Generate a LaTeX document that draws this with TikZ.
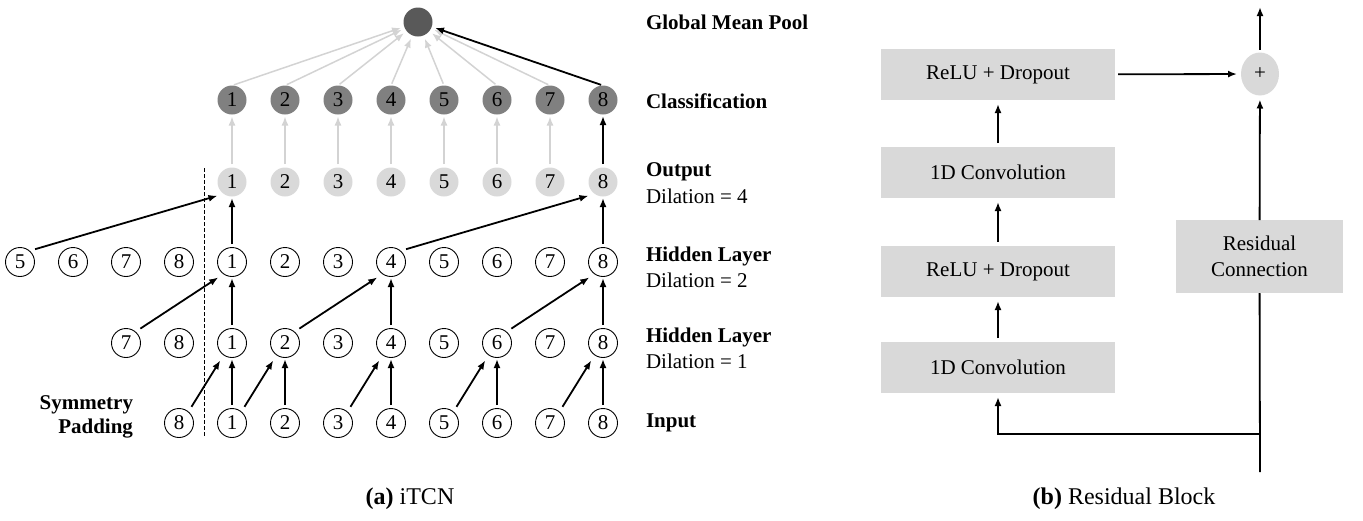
\documentclass[tikz,border=0pt]{standalone}
\usepackage{fontspec}
\setmainfont{Liberation Serif}
\usetikzlibrary{arrows.meta,shapes.geometric}
\definecolor{lgray}{HTML}{D9D9D9}
\definecolor{mgray}{HTML}{808080}
\definecolor{dgray}{HTML}{595959}
\definecolor{agray}{HTML}{D3D3D3}
\begin{document}
\begin{tikzpicture}[x=1pt,y=-1pt,
  every node/.style={font=\fontsize{21}{24}\selectfont, inner sep=0pt, outer sep=0pt},
  cir/.style={circle, draw=black, line width=0.9pt, minimum size=29pt},
  outc/.style={circle, fill=lgray, minimum size=29pt},
  clsc/.style={circle, fill=mgray, minimum size=29pt},
  poolc/.style={circle, fill=dgray, minimum size=29pt},
  arr/.style={-{Latex[length=9pt,width=7pt]}, line width=1.8pt},
  garr/.style={-{Latex[length=9pt,width=7pt]}, line width=1.5pt, draw=agray},
  varr/.style={arr, shorten <=3.5pt, shorten >=1.5pt},
  gvarr/.style={garr, shorten <=3.5pt, shorten >=2pt},
  darr/.style={arr, shorten <=6pt, shorten >=6.5pt},
  lblb/.style={anchor=west, font=\fontsize{21}{24}\selectfont\bfseries},
  lblr/.style={anchor=west},
  blk/.style={fill=lgray, minimum width=234pt, minimum height=51pt},
  barr/.style={-{Latex[length=9pt,width=7pt]}, line width=1.8pt, shorten <=4pt, shorten >=4pt}
]
\useasboundingbox (0,0) rectangle (1363,520);

% ---------- (a) iTCN ----------
\node[poolc] (pool) at (418,22) {};
\foreach \i [evaluate=\i as \x using 232+53*(\i-1)] in {1,...,8}{
  \node[clsc] (c\i) at (\x,100) {\i};
  \node[outc] (o\i) at (\x,182) {\i};
  \node[cir]  (h\i) at (\x,262) {\i};
  \node[cir]  (g\i) at (\x,343) {\i};
  \node[cir]  (n\i) at (\x,423) {\i};
}
% padding nodes
\node[cir] (hp5) at (20,262) {5};
\node[cir] (hp6) at (73,262) {6};
\node[cir] (hp7) at (126,262) {7};
\node[cir] (hp8) at (179,262) {8};
\node[cir] (gp7) at (126,343) {7};
\node[cir] (gp8) at (179,343) {8};
\node[cir] (np8) at (179,423) {8};

\draw[dashed, dash pattern=on 3.5pt off 2.5pt, line width=1pt] (204,168) -- (204,437);

% gray arrows
\foreach \i in {1,...,7}{
  \draw[gvarr] (o\i) -- (c\i);
  \draw[garr, shorten <=2pt, shorten >=3.5pt] (c\i.north) -- (pool);
}
\draw[arr, shorten <=2pt, shorten >=3.5pt] (c8.north) -- (pool);
\draw[varr] (o8) -- (c8);

% output <- hidden dil 2
\draw[varr] (h1) -- (o1);
\draw[darr] (hp5.50) -- (o1.235);
\draw[varr] (h8) -- (o8);
\draw[darr] (h4.50) -- (o8.235);

% hidden dil 2 <- hidden dil 1
\draw[varr] (g1) -- (h1);
\draw[darr] (gp7.50) -- (h1.235);
\draw[varr] (g4) -- (h4);
\draw[darr] (g2.50) -- (h4.235);
\draw[varr] (g8) -- (h8);
\draw[darr] (g6.50) -- (h8.235);

% hidden dil 1 <- input
\draw[varr] (n1) -- (g1);
\draw[darr] (np8.50) -- (g1.235);
\draw[varr] (n2) -- (g2);
\draw[darr] (n1.50) -- (g2.235);
\draw[varr] (n4) -- (g4);
\draw[darr] (n3.50) -- (g4.235);
\draw[varr] (n6) -- (g6);
\draw[darr] (n5.50) -- (g6.235);
\draw[varr] (n8) -- (g8);
\draw[darr] (n7.50) -- (g8.235);

% labels
\node[lblb] (lpool) at (646,22) {Global Mean Pool};
\node[lblb] (lcls) at (646,101) {Classification};
\node[lblb] (lout) at (646,172) {Output};
\node[lblr] (lout2) at (646,196) {Dilation = 4};
\node[lblb] (lh2) at (646,256) {Hidden Layer};
\node[lblr] (lh22) at (646,280) {Dilation = 2};
\node[lblb] (lh1) at (646,337) {Hidden Layer};
\node[lblr] (lh12) at (646,361) {Dilation = 1};
\node[lblb] (lin) at (646,423) {Input};
\node[anchor=east, align=right, font=\fontsize{21}{24}\selectfont\bfseries] (lsym) at (133,417) {Symmetry\\Padding};

% ---------- (b) Residual Block ----------
\node[blk] (b1) at (998,74.5) {ReLU + Dropout};
\node[blk] (b2) at (998,172.5) {1D Convolution};
\node[blk] (b3) at (998,271.5) {ReLU + Dropout};
\node[blk] (b4) at (998,367.5) {1D Convolution};
\node[ellipse, fill=lgray, minimum width=38pt, minimum height=43pt] (plus) at (1260,74) {+};
\node[fill=lgray, minimum width=167pt, minimum height=73pt, align=center, font=\fontsize{21}{26}\selectfont] (res) at (1259.5,256.5) {Residual\\Connection};
\coordinate (top) at (1260,7);
\coordinate (bot) at (1260,472);
\coordinate (br) at (1260,434);

\draw[barr] (b4) -- (b3);
\draw[barr] (b3) -- (b2);
\draw[barr] (b2) -- (b1);
\draw[-{Latex[length=9pt,width=7pt]}, line width=1.8pt, shorten <=3pt, shorten >=4pt] (b1) -- (plus);
\draw[-{Latex[length=9pt,width=7pt]}, line width=1.8pt, shorten <=3pt] (plus) -- (top);
\draw[line width=1.8pt] (bot) -- (res);
\draw[-{Latex[length=9pt,width=7pt]}, line width=1.8pt, shorten >=4pt] (res) -- (plus);
\draw[-{Latex[length=9pt,width=7pt]}, line width=1.8pt, shorten >=4pt] (br) -| (b4);

% captions
\node[font=\fontsize{24}{28}\selectfont] (capa) at (410,499) {\textbf{(a)} iTCN};
\node[font=\fontsize{24}{28}\selectfont] (capb) at (1124,499) {\textbf{(b)} Residual Block};
\end{tikzpicture}
\end{document}
